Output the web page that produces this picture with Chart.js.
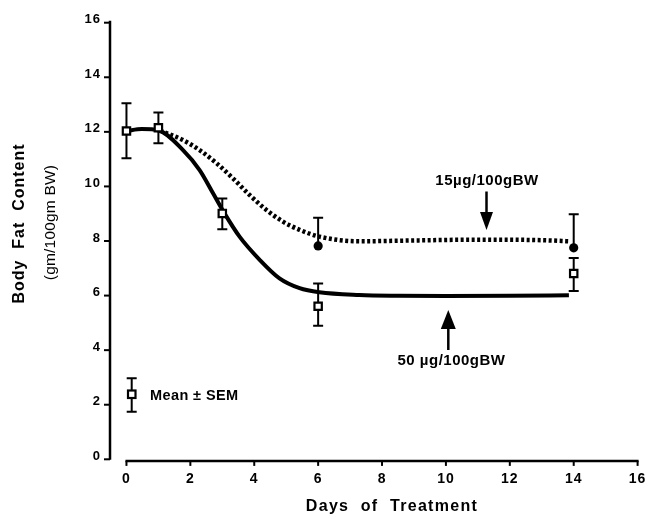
<!DOCTYPE html>
<html><head><meta charset="utf-8">
<script src="https://cdn.jsdelivr.net/npm/chart.js@4/dist/chart.umd.min.js"></script>
<style>html,body{margin:0;padding:0;background:#fff}#wrap{width:645px;height:518px;position:relative}</style>
</head><body><div id="wrap"><canvas id="c"></canvas></div>
<script>
// ---- data ----
const days = [0, 1, 3, 6, 14];
const fat50 = [12.03, 12.15, 9.01, 5.61, 6.81];
const fat50Low = [11.03, 11.58, 8.43, 4.89, 6.17];
const fat50High = [13.05, 12.71, 9.56, 6.44, 7.38];
const days15 = [6, 14];
const fat15 = [7.82, 7.75];
const fat15High = [8.85, 8.98];
const curve50Days = [0, 0.48, 1.01, 1.77, 2.29, 2.71, 3.05, 3.54, 4.17, 4.79, 5.42, 6.04, 7.29, 8.5, 10, 12, 13.85];
const curve50Fat = [12.03, 12.1, 12.05, 11.33, 10.6, 9.75, 9.05, 8.16, 7.31, 6.63, 6.27, 6.12, 6.02, 5.99, 5.98, 5.99, 6.01];
const curve15Days = [1.05, 1.77, 2.29, 2.82, 3.33, 3.85, 4.38, 4.9, 5.42, 6.04, 7.29, 9, 11, 13, 13.85];
const curve15Fat = [12.05, 11.7, 11.33, 10.85, 10.3, 9.69, 9.14, 8.71, 8.41, 8.16, 7.99, 8.02, 8.05, 8.03, 7.99];
const xTicks = [0, 2, 4, 6, 8, 10, 12, 14, 16];
const yTicks = [0, 2, 4, 6, 8, 10, 12, 14, 16];
const xTitle = 'Days  of  Treatment';
const yTitle1 = 'Body  Fat  Content';
const yTitle2 = '(gm/100gm BW)';
const label15 = '15µg/100gBW';
const label50 = '50 µg/100gBW';
const legendText = 'Mean ± SEM';

const FONT = '"Liberation Sans", Arial, Helvetica, sans-serif';

function capBar(ctx, x, y1, y2, cap) {
  ctx.beginPath();
  ctx.moveTo(x, y1); ctx.lineTo(x, y2);
  ctx.moveTo(x - cap / 2, y1); ctx.lineTo(x + cap / 2, y1);
  ctx.moveTo(x - cap / 2, y2); ctx.lineTo(x + cap / 2, y2);
  ctx.stroke();
}

function arrow(ctx, x, yStart, yTip, headLen, headW) {
  const dir = yTip > yStart ? 1 : -1;
  const base = yTip - dir * headLen;
  ctx.beginPath();
  ctx.moveTo(x, yStart); ctx.lineTo(x, base + dir * 1);
  ctx.stroke();
  ctx.beginPath();
  ctx.moveTo(x, yTip);
  ctx.lineTo(x - headW / 2, base);
  ctx.lineTo(x + headW / 2, base);
  ctx.closePath();
  ctx.fill();
}

const deco = {
  id: 'deco',
  beforeDraw(chart) {
    chart.ctx.letterSpacing = '1px';
  },
  beforeDatasetsDraw(chart) {
    const ctx = chart.ctx, xs = chart.scales.x, ys = chart.scales.y;
    ctx.save();
    ctx.strokeStyle = '#000'; ctx.lineWidth = 2;
    days.forEach((d, i) => {
      capBar(ctx, xs.getPixelForValue(d), ys.getPixelForValue(fat50High[i]), ys.getPixelForValue(fat50Low[i]), 10);
    });
    days15.forEach((d, i) => {
      const x = xs.getPixelForValue(d);
      const yt = ys.getPixelForValue(fat15High[i]);
      ctx.beginPath();
      ctx.moveTo(x, ys.getPixelForValue(fat15[i]));
      ctx.lineTo(x, yt);
      ctx.moveTo(x - 5, yt); ctx.lineTo(x + 5, yt);
      ctx.stroke();
    });
    ctx.restore();
  },
  afterDraw(chart) {
    const ctx = chart.ctx, xs = chart.scales.x, ys = chart.scales.y, ca = chart.chartArea;
    ctx.save();
    ctx.strokeStyle = '#000'; ctx.fillStyle = '#000';
    // axes
    const yAxisX = ca.left - 1;
    ctx.lineWidth = 2.5;
    ctx.beginPath();
    ctx.moveTo(yAxisX, ys.getPixelForValue(16) - 2);
    ctx.lineTo(yAxisX, ys.getPixelForValue(0) + 0.5);
    ctx.stroke();
    ctx.lineWidth = 2;
    yTicks.forEach(v => {
      const y = ys.getPixelForValue(v);
      ctx.beginPath(); ctx.moveTo(yAxisX - 6, y); ctx.lineTo(yAxisX, y); ctx.stroke();
    });
    const xAxisY = ca.bottom + 1.6;
    ctx.lineWidth = 2.5;
    ctx.beginPath();
    ctx.moveTo(xs.getPixelForValue(0) - 1, xAxisY);
    ctx.lineTo(xs.getPixelForValue(16) + 1, xAxisY);
    ctx.stroke();
    ctx.lineWidth = 2;
    xTicks.forEach(v => {
      const x = xs.getPixelForValue(v);
      ctx.beginPath(); ctx.moveTo(x, xAxisY); ctx.lineTo(x, xAxisY + 5); ctx.stroke();
    });

    // titles
    ctx.textAlign = 'center'; ctx.textBaseline = 'middle';
    ctx.font = 'bold 16px ' + FONT;
    ctx.letterSpacing = '1.3px';
    ctx.fillText(xTitle, 392, 507);
    ctx.save();
    ctx.translate(20, 223.5); ctx.rotate(-Math.PI / 2);
    ctx.letterSpacing = '1px';
    ctx.fillText(yTitle1, 0, 0);
    ctx.restore();
    ctx.save();
    ctx.translate(50.5, 222.5); ctx.rotate(-Math.PI / 2);
    ctx.font = '15.5px ' + FONT;
    ctx.letterSpacing = '0.2px';
    ctx.fillText(yTitle2, 0, 0);
    ctx.restore();

    // dose labels + arrows
    ctx.font = 'bold 15px ' + FONT;
    ctx.letterSpacing = '0.5px';
    ctx.fillText(label15, 487, 181);
    ctx.fillText(label50, 451.5, 361);
    ctx.letterSpacing = '0px';
    ctx.lineWidth = 2.5;
    arrow(ctx, 486.5, 191.5, 230, 18, 13);
    arrow(ctx, 448.3, 350, 310, 19, 15);

    // legend key
    ctx.lineWidth = 2;
    capBar(ctx, 131.7, 378.3, 411.7, 10);
    ctx.fillStyle = '#fff';
    ctx.fillRect(128, 390.5, 7.5, 7.5);
    ctx.lineWidth = 2.2;
    ctx.strokeRect(128, 390.5, 7.5, 7.5);
    ctx.fillStyle = '#000';
    ctx.textAlign = 'left';
    ctx.font = 'bold 14.5px ' + FONT;
    ctx.letterSpacing = '0.4px';
    ctx.fillText(legendText, 150, 396);
    ctx.restore();
  }
};

new Chart(document.getElementById('c'), {
  type: 'scatter',
  data: {
    datasets: [
      {
        label: '50 µg/100gBW (mean)',
        data: days.map((d, i) => ({ x: d, y: fat50[i] })),
        pointStyle: 'rect', pointRadius: 5.2, pointHoverRadius: 5.2,
        pointBackgroundColor: '#fff', pointBorderColor: '#000', pointBorderWidth: 2.2,
        showLine: false
      },
      {
        label: '15µg/100gBW (mean)',
        data: days15.map((d, i) => ({ x: d, y: fat15[i] })),
        pointStyle: 'circle', pointRadius: 4.6, pointHoverRadius: 4.6,
        pointBackgroundColor: '#000', pointBorderColor: '#000', pointBorderWidth: 0,
        showLine: false
      },
      {
        label: '50 µg/100gBW fit',
        data: curve50Days.map((d, i) => ({ x: d, y: curve50Fat[i] })),
        showLine: true, borderColor: '#000', borderWidth: 4, pointRadius: 0,
        cubicInterpolationMode: 'monotone', fill: false
      },
      {
        label: '15µg/100gBW fit',
        data: curve15Days.map((d, i) => ({ x: d, y: curve15Fat[i] })),
        showLine: true, borderColor: '#000', borderWidth: 4.5, pointRadius: 0,
        borderDash: [3, 2.5], borderCapStyle: 'butt',
        cubicInterpolationMode: 'monotone', fill: false
      }
    ]
  },
  options: {
    responsive: true, maintainAspectRatio: false, animation: false,
    layout: { padding: { top: 22.7, right: 5, bottom: 0, left: 0 } },
    plugins: { legend: { display: false }, tooltip: { enabled: false } },
    scales: {
      x: {
        type: 'linear', min: -0.484, max: 16,
        afterBuildTicks: s => { s.ticks = xTicks.map(v => ({ value: v })); },
        afterFit: s => { s.paddingLeft = 0; s.paddingRight = 0; s.height = 58.7; },
        border: { display: false },
        grid: { display: false, drawTicks: false, tickLength: 0 },
        ticks: { color: '#000', font: { family: FONT, size: 14, weight: 'bold' }, padding: 11, maxRotation: 0, autoSkip: false }
      },
      y: {
        type: 'linear', min: 0, max: 16,
        afterBuildTicks: s => { s.ticks = yTicks.map(v => ({ value: v })); },
        afterFit: s => { s.paddingTop = 0; s.paddingBottom = 0; s.width = 111; },
        border: { display: false },
        grid: { display: false, drawTicks: false, tickLength: 0 },
        ticks: { color: '#000', font: { family: FONT, size: 13, weight: 'bold' }, padding: 10, labelOffset: -3, autoSkip: false }
      }
    }
  },
  plugins: [deco]
});
</script>
</body></html>
